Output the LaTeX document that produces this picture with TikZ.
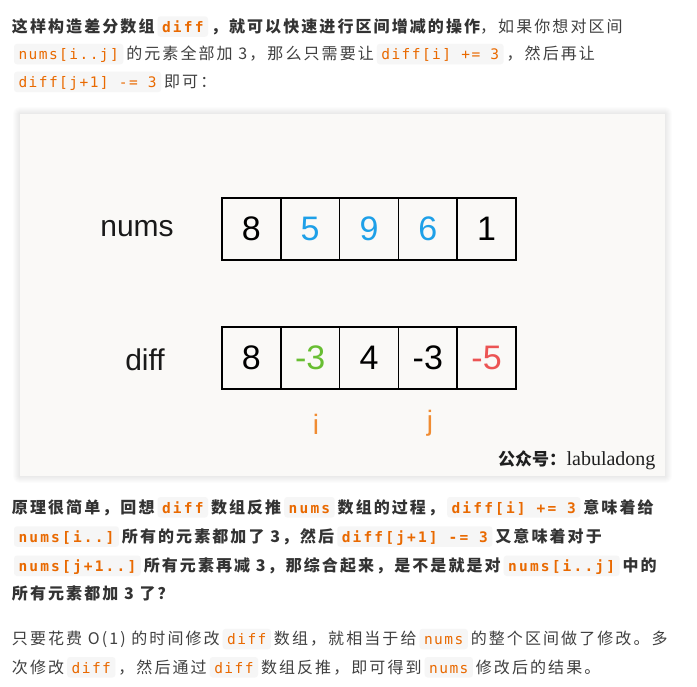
\documentclass[tikz,border=0pt]{standalone}
\usepackage{fontspec}
\newfontfamily\cjkfam[LetterSpace=13]{Noto Sans CJK SC}
\newfontfamily\cjkplain{Noto Sans CJK SC}
\newfontfamily\codefam[LetterSpace=10]{DejaVu Sans Mono}
\newfontfamily\codefamb[LetterSpace=15]{DejaVu Sans Mono}
\newfontfamily\figfam{Liberation Sans}
\newfontfamily\wmserif{Liberation Serif}
\newcommand\myTxtFont{\cjkfam\fontsize{16pt}{19pt}\selectfont}
\newcommand\myBoldFont{\cjkfam\fontsize{16pt}{19pt}\selectfont\bfseries}
\newcommand\myCodeFont{\codefam\fontsize{14.5pt}{17pt}\selectfont}
\newcommand\myCodeBFont{\codefamb\fontsize{14.5pt}{17pt}\selectfont\bfseries}
\definecolor{bodytxt}{RGB}{64,64,64}
\definecolor{boldtxt}{RGB}{51,51,51}
\definecolor{codeor}{RGB}{233,105,0}
\definecolor{codebg}{RGB}{246,246,246}
\definecolor{imgbg}{RGB}{250,249,247}
\definecolor{cblue}{RGB}{30,160,232}
\definecolor{cgreen}{RGB}{104,190,50}
\definecolor{cred}{RGB}{236,84,84}
\definecolor{corange}{RGB}{240,140,50}
\tikzset{
  txt/.style={inner sep=0pt, outer sep=0pt, anchor=base west, text=bodytxt, font=\myTxtFont},
  btxt/.style={txt, text=boldtxt, font=\myBoldFont},
  code/.style={inner xsep=4.5pt, inner ysep=0pt, text height=16pt, text depth=4.5pt, outer sep=0pt,
    anchor=base west, fill=codebg, rounded corners=3pt, text=codeor, font=\myCodeFont},
  bcode/.style={code, font=\myCodeBFont},
  cell/.style={draw=black, line width=1.6pt, minimum width=58.8pt, minimum height=62pt, inner sep=0pt,
    font=\figfam\fontsize{34pt}{40pt}\selectfont},
  rowlabel/.style={inner sep=0pt, font=\figfam\fontsize{30pt}{36pt}\selectfont, text=black!90},
  idx/.style={inner sep=0pt, anchor=base, font=\figfam\fontsize{28pt}{34pt}\selectfont, text=corange},
}
\begin{document}
\begin{tikzpicture}[x=1pt,y=1pt]
\fill[white] (0,0) rectangle (697,-687);
\useasboundingbox (0,0) rectangle (697,-687);

% ---------- paragraph 1 ----------
\node[btxt] (a1) at (12,-32.3) {这样构造差分数组};
\node[bcode] (a2) at ([xshift=3pt]a1.base east) {diff};
\node[btxt] (a3) at ([xshift=3pt]a2.base east) {，就可以快速进行区间增减的操作};
\node[txt] (a4) at (a3.base east) {，如果你想对区间};

\node[code] (b1) at (14,-59.8) {nums[i..j]};
\node[txt] (b2) at ([xshift=3pt]b1.base east) {的元素全部加 3，那么只需要让};
\node[code] (b3) at ([xshift=3pt]b2.base east) {diff[i] += 3};
\node[txt] (b4) at ([xshift=3pt]b3.base east) {，然后再让};

\node[code] (c1) at (14,-87.7) {diff[j+1] -= 3};
\node[txt] (c2) at ([xshift=3pt]c1.base east) {即可：};

% ---------- figure ----------
\foreach \s in {1,...,7}
  \fill[black, opacity=0.012, rounded corners=\s pt] (20-\s,-114+\s) rectangle (665+\s,-476-\s);
\node[fill=imgbg, inner sep=0pt, outer sep=0pt, minimum width=645pt, minimum height=362pt, anchor=north west] (frame) at (20,-114) {};

\node[rowlabel] (lnums) at (137,-229) {nums};
\node[rowlabel] (ldiff) at (145,-360) {diff};

\node[cell] (n1) at (251.4,-229) {8};
\node[cell, text=cblue] (n2) at (310.2,-229) {5};
\node[cell, text=cblue] (n3) at (369.0,-229) {9};
\node[cell, text=cblue] (n4) at (427.8,-229) {6};
\node[cell] (n5) at (486.6,-229) {1};

\node[cell] (d1) at (251.4,-358) {8};
\node[cell, text=cgreen] (d2) at (310.2,-358) {-3};
\node[cell] (d3) at (369.0,-358) {4};
\node[cell] (d4) at (427.8,-358) {-3};
\node[cell, text=cred] (d5) at (486.6,-358) {-5};

\node[idx] (ii) at (316,-435) {i};
\node[idx] (jj) at (430,-431) {j};

\node[inner sep=0pt, anchor=base west, font=\cjkplain\fontsize{17pt}{20pt}\selectfont\bfseries, text=black!88] (wm1) at (498,-465) {公众号：};
\node[inner sep=0pt, anchor=base west, font=\wmserif\fontsize{20pt}{24pt}\selectfont, text=black!88] (wm2) at (wm1.base east) {labuladong};

% ---------- paragraph 2 ----------
\node[btxt] (p1) at (12,-513) {原理很简单，回想};
\node[bcode] (p2) at ([xshift=3pt]p1.base east) {diff};
\node[btxt] (p3) at ([xshift=3pt]p2.base east) {数组反推};
\node[bcode] (p4) at ([xshift=3pt]p3.base east) {nums};
\node[btxt] (p5) at ([xshift=3pt]p4.base east) {数组的过程，};
\node[bcode] (p6) at ([xshift=3pt]p5.base east) {diff[i] += 3};
\node[btxt] (p7) at ([xshift=3pt]p6.base east) {意味着给};

\node[bcode] (q1) at (14,-542.3) {nums[i..]};
\node[btxt] (q2) at ([xshift=3pt]q1.base east) {所有的元素都加了 3，然后};
\node[bcode] (q3) at ([xshift=3pt]q2.base east) {diff[j+1] -= 3};
\node[btxt] (q4) at ([xshift=3pt]q3.base east) {又意味着对于};

\node[bcode] (r1) at (14,-571.5) {nums[j+1..]};
\node[btxt] (r2) at ([xshift=3pt]r1.base east) {所有元素再减 3，那综合起来，是不是就是对};
\node[bcode] (r3) at ([xshift=3pt]r2.base east) {nums[i..j]};
\node[btxt] (r4) at ([xshift=3pt]r3.base east) {中的};

\node[btxt] (s1) at (12,-599.7) {所有元素都加 3 了？};

% ---------- paragraph 3 ----------
\node[txt] (t1) at (12,-644.8) {只要花费 O(1) 的时间修改};
\node[code] (t2) at ([xshift=3pt]t1.base east) {diff};
\node[txt] (t3) at ([xshift=3pt]t2.base east) {数组，就相当于给};
\node[code] (t4) at ([xshift=3pt]t3.base east) {nums};
\node[txt] (t5) at ([xshift=3pt]t4.base east) {的整个区间做了修改。多};

\node[txt] (u1) at (12,-673) {次修改};
\node[code] (u2) at ([xshift=3pt]u1.base east) {diff};
\node[txt] (u3) at ([xshift=3pt]u2.base east) {，然后通过};
\node[code] (u4) at ([xshift=3pt]u3.base east) {diff};
\node[txt] (u5) at ([xshift=3pt]u4.base east) {数组反推，即可得到};
\node[code] (u6) at ([xshift=3pt]u5.base east) {nums};
\node[txt] (u7) at ([xshift=3pt]u6.base east) {修改后的结果。};
\end{tikzpicture}
\end{document}
